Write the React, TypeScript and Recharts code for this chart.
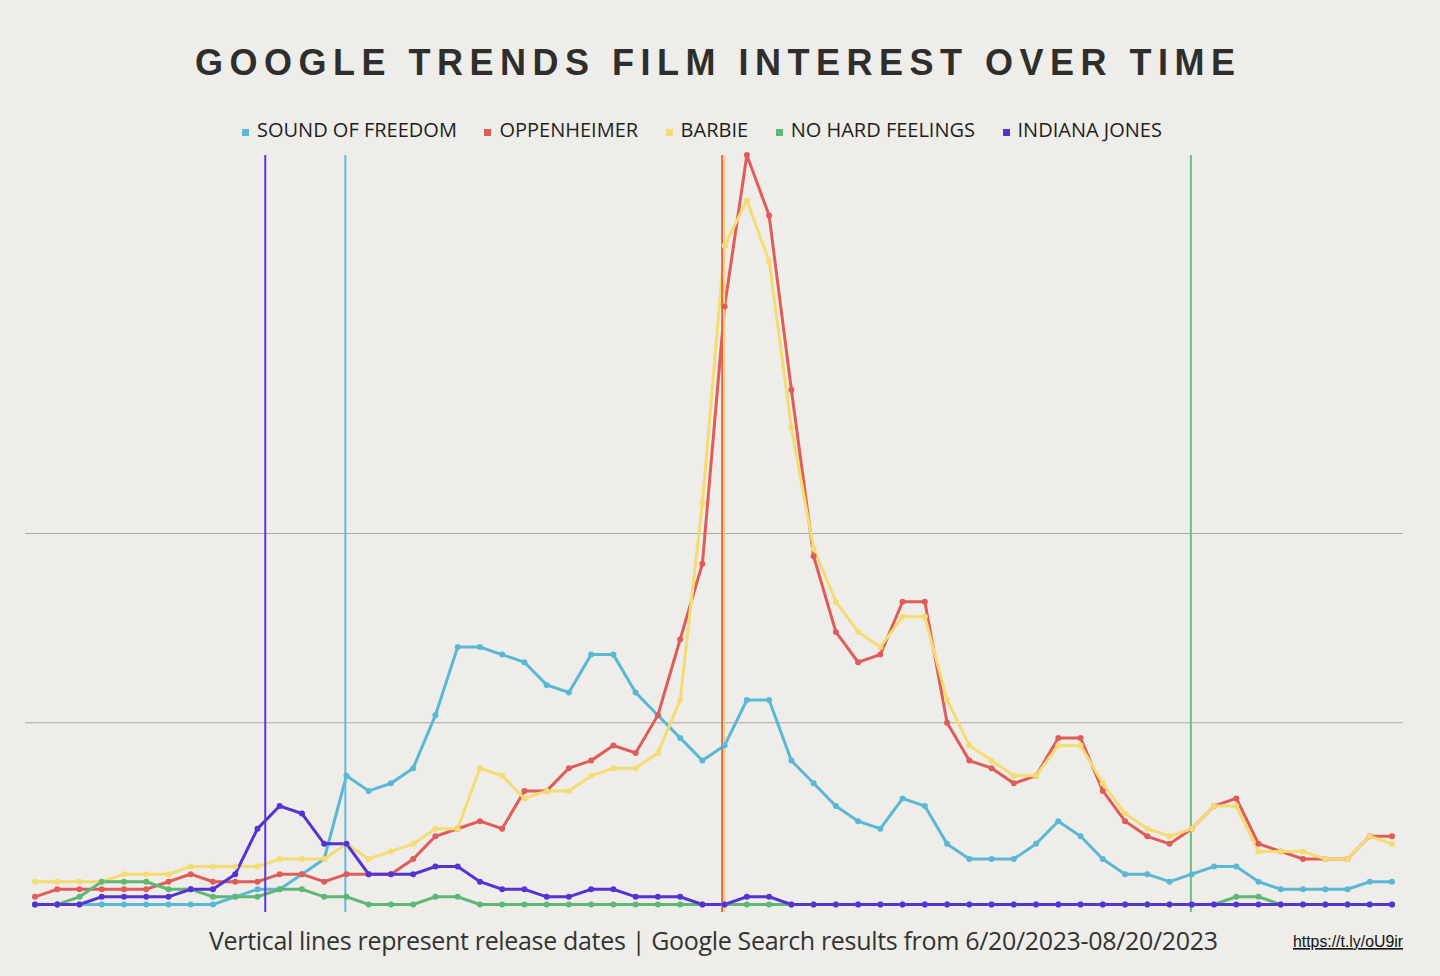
import React from 'react';
import { LineChart, Line, XAxis, YAxis, ReferenceLine } from 'recharts';

// Google Trends interest, one value per day from 6/20/2023 to 8/20/2023
const soundOfFreedom = [
  1, 1, 1, 1, 1, 1, 1, 1, 1, 2, 3, 3, 5, 7, 18, 16, 17, 19, 26, 35, 35,
  34, 33, 30, 29, 34, 34, 29, 26, 23, 20, 22, 28, 28, 20, 17, 14, 12, 11, 15,
  14, 9, 7, 7, 7, 9, 12, 10, 7, 5, 5, 4, 5, 6, 6, 4, 3, 3, 3, 3, 4, 4,
];
const oppenheimer = [
  2, 3, 3, 3, 3, 3, 4, 5, 4, 4, 4, 5, 5, 4, 5, 5, 5, 7, 10, 11, 12,
  11, 16, 16, 19, 20, 22, 21, 26, 36, 46, 80, 100, 92, 69, 47, 37, 33, 34, 41,
  41, 25, 20, 19, 17, 18, 23, 23, 16, 12, 10, 9, 11, 14, 15, 9, 8, 7, 7, 7, 10, 10,
];
const barbie = [
  4, 4, 4, 4, 5, 5, 5, 6, 6, 6, 6, 7, 7, 7, 9, 7, 8, 9, 11, 11, 19,
  18, 15, 16, 16, 18, 19, 19, 21, 28, 54, 88, 94, 86, 64, 48, 41, 37, 35, 39,
  39, 28, 22, 20, 18, 18, 22, 22, 17, 13, 11, 10, 11, 14, 14, 8, 8, 8, 7, 7, 10, 9,
];
const noHardFeelings = [
  1, 1, 2, 4, 4, 4, 3, 3, 2, 2, 2, 3, 3, 2, 2, 1, 1, 1, 2, 2, 1,
  1, 1, 1, 1, 1, 1, 1, 1, 1, 1, 1, 1, 1, 1, 1, 1, 1, 1, 1,
  1, 1, 1, 1, 1, 1, 1, 1, 1, 1, 1, 1, 1, 1, 2, 2, 1, 1, 1, 1, 1, 1,
];
const indianaJones = [
  1, 1, 1, 2, 2, 2, 2, 3, 3, 5, 11, 14, 13, 9, 9, 5, 5, 5, 6, 6, 4,
  3, 3, 2, 2, 3, 3, 2, 2, 2, 1, 1, 2, 2, 1, 1, 1, 1, 1, 1,
  1, 1, 1, 1, 1, 1, 1, 1, 1, 1, 1, 1, 1, 1, 1, 1, 1, 1, 1, 1, 1, 1,
];

// release dates, as day offsets from 6/20
const releaseDays = [10.35, 13.95, 30.89, 30.98, 51.96];

const series = [
  { key: 'sof', name: 'SOUND OF FREEDOM', color: '#5ab8d5', values: soundOfFreedom },
  { key: 'opp', name: 'OPPENHEIMER', color: '#e05c59', values: oppenheimer },
  { key: 'barbie', name: 'BARBIE', color: '#f5dc72', values: barbie },
  { key: 'nhf', name: 'NO HARD FEELINGS', color: '#5cb874', values: noHardFeelings },
  { key: 'ij', name: 'INDIANA JONES', color: '#5532d2', values: indianaJones },
];
const releaseColors = ['#5a3ad6', '#62bcd9', '#e0674f', '#f6d27a', '#6cc07f'];

const data = soundOfFreedom.map((_, i) => {
  const row: Record<string, number> = { day: i };
  series.forEach((s) => (row[s.key] = s.values[i]));
  return row;
});

const BG = '#eeede9';

export default function App() {
  return (
    <div style={{ position: 'absolute', left: 0, top: 0, width: 1440, height: 976, background: BG, overflow: 'hidden' }}>
      <LineChart width={1440} height={976} data={data} margin={{ top: 155, right: 37, bottom: 64, left: 25 }}>
        <XAxis
          dataKey="day"
          type="number"
          domain={[0, 61]}
          padding={{ left: 10, right: 11 }}
          height={0}
          tick={false}
          tickLine={false}
          axisLine={{ stroke: '#7a7a77', strokeWidth: 1.5 }}
        />
        <YAxis hide domain={[0, 100]} />
        <ReferenceLine y={25} stroke="#aaa9a5" strokeWidth={1} />
        <ReferenceLine y={50} stroke="#aaa9a5" strokeWidth={1} />
        {series.map((s) => (
          <Line
            key={s.key}
            dataKey={s.key}
            type="linear"
            stroke={s.color}
            strokeWidth={3}
            dot={{ r: 3, fill: s.color, stroke: s.color, strokeWidth: 0 }}
            isAnimationActive={false}
          />
        ))}
        {releaseDays.map((d, i) => (
          <ReferenceLine key={i} x={d} stroke={releaseColors[i]} strokeWidth={2} />
        ))}
      </LineChart>

      <svg width={1440} height={976} style={{ position: 'absolute', left: 0, top: 0, pointerEvents: 'none' }}>
        <text
          x={195}
          y={75}
          textLength={1040}
          lengthAdjust="spacing"
          fontFamily="Liberation Sans, Arial, sans-serif"
          fontWeight={700}
          fontSize={36}
          fill="#2e2e2c"
        >
          GOOGLE TRENDS FILM INTEREST OVER TIME
        </text>
        <text
          x={209}
          y={950}
          textLength={1009}
          lengthAdjust="spacing"
          fontFamily="Open Sans, sans-serif"
          fontSize={25}
          fill="#333331"
        >
          Vertical lines represent release dates | Google Search results from 6/20/2023-08/20/2023
        </text>
        <text
          x={1293}
          y={947}
          textLength={110}
          lengthAdjust="spacingAndGlyphs"
          fontFamily="Liberation Sans, Arial, sans-serif"
          fontSize={16}
          fill="#111"
          textDecoration="underline"
        >
          https://t.ly/oU9ir
        </text>
      </svg>

      <div
        style={{
          position: 'absolute',
          left: 242,
          top: 116,
          display: 'flex',
          alignItems: 'center',
          gap: 27.5,
          fontFamily: 'Open Sans, sans-serif',
          fontSize: 20,
          color: '#1e1e1e',
          whiteSpace: 'nowrap',
        }}
      >
        {series.map((s) => (
          <div key={s.key} style={{ display: 'flex', alignItems: 'center' }}>
            <span style={{ width: 7, height: 7, background: s.color, marginRight: 8, marginTop: 5 }} />
            <span>{s.name}</span>
          </div>
        ))}
      </div>
    </div>
  );
}
